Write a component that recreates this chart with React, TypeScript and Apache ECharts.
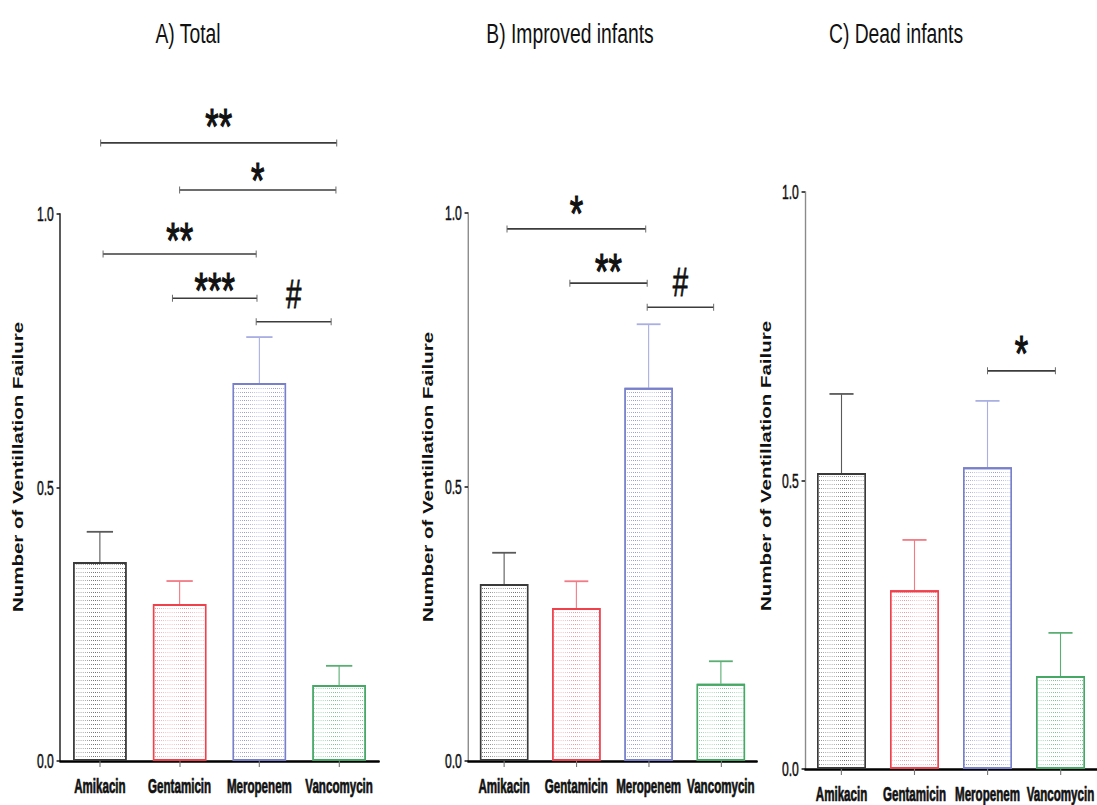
import React, { useEffect, useRef } from "react";
import * as echarts from "echarts";

// ---------------- data ----------------
const categories = ["Amikacin", "Gentamicin", "Meropenem", "Vancomycin"];
const panelTitles = ["A) Total", "B) Improved infants", "C) Dead infants"];
const yAxisTitle = "Number of Ventillation Failure";
const yTicks = [0, 0.5, 1.0];

// mean values per panel
const meanTotal = [0.364, 0.287, 0.691, 0.139];
const meanImproved = [0.323, 0.279, 0.681, 0.141];
const meanDead = [0.513, 0.31, 0.523, 0.161];

// upper end of the error bar (mean + SEM)
const upperTotal = [0.419, 0.329, 0.775, 0.174];
const upperImproved = [0.38, 0.328, 0.797, 0.182];
const upperDead = [0.65, 0.397, 0.638, 0.236];

// significance brackets: [from category, to category, bracket level, label level]
const bracketsTotal = [
  [0.01, 2.97, 1.13, 1.181],
  [1.0, 2.96, 1.044, 1.082],
  [0.04, 1.96, 0.927, 0.973],
  [0.91, 1.97, 0.846, 0.881],
  [1.96, 2.9, 0.803, 0.854],
];
const bracketLabelsTotal = ["**", "*", "**", "***", "#"];
const bracketsImproved = [
  [0.04, 1.96, 0.971, 1.02],
  [0.91, 1.98, 0.872, 0.914],
  [1.98, 2.9, 0.828, 0.874],
];
const bracketLabelsImproved = ["*", "**", "#"];
const bracketsDead = [[2.0, 2.93, 0.69, 0.74]];
const bracketLabelsDead = ["*"];

// ---------------- styles ----------------
const borderColors = ["#3a3a3a", "#f0404c", "#7880cc", "#45a865"];
const dotColors = ["#6a6a6a", "#f5909a", "#8f96d8", "#72c08c"];
const errColors = ["#5a5a5a", "#f27a84", "#a9afe2", "#5aae74"];

const K = 1.45; // horizontal stretch of the virtual canvas
const VW = 1097 * K;
const VH = 805;
const FONT = "'Liberation Sans', Arial, Helvetica, sans-serif";

const grids = [
  { left: 60 * K, width: 319 * K, top: 214, height: 547 },
  { left: 468 * K, width: 289 * K, top: 213, height: 548 },
  { left: 805 * K, width: 292 * K, top: 192, height: 577 },
];
const titlePos = [
  [188 * K, 33],
  [570 * K, 33],
  [896 * K, 33],
];
const yNamePos = [
  [18 * K, 467],
  [428 * K, 477],
  [766 * K, 466],
];
const yAxisColors = ["#111", "#8a8a8a", "#8a8a8a"];

export default function App() {
  const ref = useRef<HTMLDivElement>(null);

  useEffect(() => {
    document.body.style.margin = "0";
    document.body.style.overflow = "hidden";
    document.documentElement.style.overflow = "hidden";
    if (!ref.current) return;
    const chart = echarts.init(ref.current, null, { renderer: "svg", width: VW, height: VH });

    const means = [meanTotal, meanImproved, meanDead];
    const uppers = [upperTotal, upperImproved, upperDead];
    const brackets = [bracketsTotal, bracketsImproved, bracketsDead];
    const bracketLabels = [bracketLabelsTotal, bracketLabelsImproved, bracketLabelsDead];

    const xAxis: any[] = [];
    const yAxis: any[] = [];
    const series: any[] = [];

    grids.forEach((g, p) => {
      xAxis.push({
        type: "category",
        gridIndex: p,
        data: categories,
        boundaryGap: true,
        axisLine: { show: true, onZero: false, lineStyle: { color: "#000", width: 2.5 } },
        axisTick: { show: true, alignWithLabel: true, length: 6, lineStyle: { color: "#777", width: 1.6 } },
        axisLabel: { show: false },
        splitLine: { show: false },
      });
      xAxis.push({
        type: "value",
        gridIndex: p,
        min: -0.5,
        max: 3.5,
        show: false,
        axisLine: { onZero: false },
      });
      yAxis.push({
        type: "value",
        gridIndex: p,
        min: 0,
        max: 1,
        interval: 0.5,
        axisLine: { show: true, onZero: false, lineStyle: { color: yAxisColors[p], width: 2 } },
        axisTick: { show: true, length: 5, lineStyle: { color: "#222", width: 1.6 } },
        axisLabel: { show: false },
        splitLine: { show: false },
      });

      const catAxis = p * 2;
      const valAxis = p * 2 + 1;

      categories.forEach((c, i) => {
        series.push({
          type: "bar",
          name: c,
          xAxisIndex: catAxis,
          yAxisIndex: p,
          barWidth: "67%",
          barGap: "-100%",
          data: means[p].map((v, j) => (j === i ? v : "-")),
          itemStyle: {
            color: "#ffffff",
            borderColor: borderColors[i],
            borderWidth: 2,
            decal: {
              symbol: "rect",
              symbolSize: 1,
              color: dotColors[i],
              dashArrayX: [1, 2],
              dashArrayY: [1, 2.4],
              rotation: 0,
            },
          },
          emphasis: { disabled: true },
          silent: true,
        });
      });

      // category labels (narrow, drawn through the axis scale)
      series.push({
        type: "custom",
        xAxisIndex: valAxis,
        yAxisIndex: p,
        silent: true,
        clip: false,
        data: categories.map((c, i) => [i, 0]),
        renderItem: (params: any, api: any) => {
          const pt = api.coord([api.value(0), 0]);
          return {
            type: "text",
            x: pt[0],
            y: pt[1] + 25,
            scaleX: 0.84,
            style: {
              text: categories[params.dataIndex],
              fontSize: 20,
              fontWeight: "bold",
              fontFamily: FONT,
              fill: "#111",
              stroke: "#111",
              lineWidth: 0.7,
              align: "center",
              verticalAlign: "middle",
              textAlign: "center",
              textVerticalAlign: "middle",
            },
          };
        },
      });

      // y tick labels
      series.push({
        type: "custom",
        xAxisIndex: valAxis,
        yAxisIndex: p,
        silent: true,
        clip: false,
        data: yTicks.map((v) => [-0.5, v]),
        renderItem: (params: any, api: any) => {
          const pt = api.coord([api.value(0), api.value(1)]);
          return {
            type: "text",
            x: pt[0] - 9,
            y: pt[1],
            scaleX: 0.84,
            style: {
              text: yTicks[params.dataIndex].toFixed(1),
              fontSize: 21,
              fontFamily: FONT,
              fill: "#111",
              stroke: "#111",
              lineWidth: 0.5,
              align: "right",
              verticalAlign: "middle",
              textAlign: "right",
              textVerticalAlign: "middle",
            },
          };
        },
      });

      // error bars (upper only)
      series.push({
        type: "custom",
        xAxisIndex: valAxis,
        yAxisIndex: p,
        silent: true,
        z: 1,
        data: means[p].map((m, i) => [i, m, uppers[p][i]]),
        renderItem: (params: any, api: any) => {
          const idx = api.value(0);
          const lo = api.coord([idx, api.value(1)]);
          const hi = api.coord([idx, api.value(2)]);
          const half = api.size([1, 0])[0] * 0.165;
          const col = errColors[params.dataIndex];
          return {
            type: "group",
            children: [
              { type: "line", shape: { x1: lo[0], y1: lo[1], x2: hi[0], y2: hi[1] }, style: { stroke: col, lineWidth: 1.6 } },
              { type: "line", shape: { x1: hi[0] - half, y1: hi[1], x2: hi[0] + half, y2: hi[1] }, style: { stroke: col, lineWidth: 1.8 } },
            ],
          };
        },
      });

      // significance brackets
      const labels = bracketLabels[p];
      series.push({
        type: "custom",
        xAxisIndex: valAxis,
        yAxisIndex: p,
        silent: true,
        clip: false,
        z: 5,
        data: brackets[p],
        renderItem: (params: any, api: any) => {
          const x1 = api.value(0);
          const x2 = api.value(1);
          const y = api.value(2);
          const ty = api.value(3);
          const a = api.coord([x1, y]);
          const b = api.coord([x2, y]);
          const t = api.coord([(x1 + x2) / 2, ty]);
          const label = labels[params.dataIndex];
          const isHash = label === "#";
          const fs = isHash ? 40 : 50;
          const dy = isHash ? 0 : 0.23 * fs;
          const stroke = "#3c3c3c";
          return {
            type: "group",
            children: [
              { type: "line", shape: { x1: a[0], y1: a[1], x2: b[0], y2: b[1] }, style: { stroke, lineWidth: 1.6 } },
              { type: "line", shape: { x1: a[0], y1: a[1] - 3.5, x2: a[0], y2: a[1] + 3.5 }, style: { stroke: "#666", lineWidth: 1.4 } },
              { type: "line", shape: { x1: b[0], y1: b[1] - 3.5, x2: b[0], y2: b[1] + 3.5 }, style: { stroke: "#666", lineWidth: 1.4 } },
              {
                type: "text",
                x: t[0],
                y: t[1] + dy,
                style: {
                  text: label,
                  fontSize: fs,
                  fontFamily: FONT,
                  fill: "#111",
                  stroke: "#111",
                  lineWidth: isHash ? 0.8 : 1.2,
                  align: "center",
                  verticalAlign: "middle",
                  textAlign: "center",
                  textVerticalAlign: "middle",
                },
              },
            ],
          };
        },
      });
    });

    const graphic: any[] = [];
    panelTitles.forEach((t, p) => {
      graphic.push({
        type: "text",
        x: titlePos[p][0],
        y: titlePos[p][1],
        style: {
          text: t,
          fontSize: 28,
          fontFamily: FONT,
          fill: "#111",
          align: "center",
          verticalAlign: "middle",
          textAlign: "center",
          textVerticalAlign: "middle",
        },
      });
      graphic.push({
        type: "text",
        x: yNamePos[p][0],
        y: yNamePos[p][1],
        rotation: Math.PI / 2,
        style: {
          text: yAxisTitle,
          fontSize: 20.5,
          fontWeight: "bold",
          fontFamily: FONT,
          fill: "#111",
          align: "center",
          verticalAlign: "middle",
          textAlign: "center",
          textVerticalAlign: "middle",
        },
      });
    });

    chart.setOption({
      animation: false,
      backgroundColor: "#ffffff",
      grid: grids.map((g) => ({ left: g.left, width: g.width, top: g.top, height: g.height, containLabel: false })),
      xAxis,
      yAxis,
      series,
      graphic,
    });

    return () => chart.dispose();
  }, []);

  return (
    <div
      ref={ref}
      style={{
        position: "absolute",
        left: 0,
        top: 0,
        width: VW,
        height: VH,
        transform: `scaleX(${1 / K})`,
        transformOrigin: "0 0",
        background: "#fff",
      }}
    />
  );
}
